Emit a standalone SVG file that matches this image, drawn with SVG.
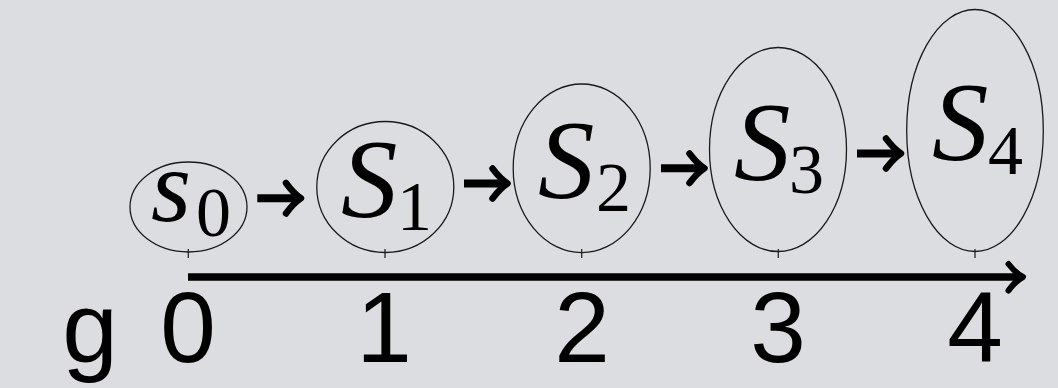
<svg xmlns="http://www.w3.org/2000/svg" width="1058" height="388" viewBox="0 0 1058 388">
<defs>
<style>
.bg{fill:#dcdde0}
.st{fill:none;stroke:#1a1a1a;stroke-width:1.3}
.tick{stroke:#1a1a1a;stroke-width:1.2}
.m{font-family:'Liberation Serif','Times New Roman',Times,serif;font-style:italic;fill:#000}
.sub{font-family:'Liberation Serif','Times New Roman',Times,serif;font-size:70px;fill:#000}
.ax{font-family:'Liberation Sans',Arial,sans-serif;font-size:100px;fill:#000;text-anchor:middle}
.shaft{stroke:#000;stroke-width:8;fill:none;stroke-linecap:butt}
.head{stroke:#000;stroke-width:6.5;fill:none;stroke-linecap:round;stroke-linejoin:round}
</style>
</defs>
<rect class="bg" x="0" y="0" width="1058" height="388"/>

<g id="node-s0">
<ellipse class="st" cx="188.5" cy="207" rx="58.5" ry="45"/>
<text class="m" x="151" y="221" font-size="103">s</text>
<text class="sub" x="196" y="236">0</text>
</g>
<g id="node-S1">
<ellipse class="st" cx="385.3" cy="187" rx="68.5" ry="65.5"/>
<text class="m" x="341" y="217" font-size="113">S</text>
<text class="sub" x="397" y="230">1</text>
</g>
<g id="node-S2">
<ellipse class="st" cx="581.7" cy="168.3" rx="68.5" ry="84.3"/>
<text class="m" x="538" y="198" font-size="113">S</text>
<text class="sub" x="596" y="211">2</text>
</g>
<g id="node-S3">
<ellipse class="st" cx="778" cy="149.5" rx="68.5" ry="102"/>
<text class="m" x="734" y="180" font-size="113">S</text>
<text class="sub" x="789" y="193">3</text>
</g>
<g id="node-S4">
<ellipse class="st" cx="975" cy="130.5" rx="68.3" ry="121"/>
<text class="m" x="932" y="160" font-size="113">S</text>
<text class="sub" x="988" y="174">4</text>
</g>

<g id="axis">
<line class="tick" x1="188.3" y1="249" x2="188.3" y2="258"/>
<line class="tick" x1="385" y1="249" x2="385" y2="258"/>
<line class="tick" x1="581.7" y1="249" x2="581.7" y2="258"/>
<line class="tick" x1="778.3" y1="249" x2="778.3" y2="258"/>
<line class="tick" x1="975" y1="249" x2="975" y2="258"/>
<line x1="188" y1="277" x2="1019" y2="277" stroke="#000" stroke-width="7.5"/>
<path d="M1008.5,264 Q1016,273.5 1023,277 Q1016,280.5 1008.5,290.5" stroke="#000" stroke-width="6" fill="none" stroke-linecap="round" stroke-linejoin="round"/>
<text class="ax" x="90" y="362">g</text>
<text class="ax" x="188" y="362">0</text>
<text class="ax" x="384" y="362">1</text>
<text class="ax" x="582" y="362">2</text>
<text class="ax" x="778" y="362">3</text>
<text class="ax" x="975" y="362">4</text>
</g>

<g id="connectors">
<line class="shaft" x1="257.3" y1="198.3" x2="298" y2="198.3"/>
<path class="head" d="M286,183 Q294,194 301,198.3 Q294,202.6 286,213.5"/>
<line class="shaft" x1="464" y1="183.5" x2="504.5" y2="183.5"/>
<path class="head" d="M492.5,168.5 Q500.5,179 507.5,183.5 Q500.5,188 492.5,198.5"/>
<line class="shaft" x1="661" y1="168.3" x2="701.5" y2="168.3"/>
<path class="head" d="M689.5,153.5 Q697.5,164 704.5,168.3 Q697.5,172.6 689.5,183"/>
<line class="shaft" x1="857" y1="153.5" x2="898" y2="153.5"/>
<path class="head" d="M886,138.5 Q894,149 901,153.5 Q894,158 886,168.5"/>
</g>
</svg>
